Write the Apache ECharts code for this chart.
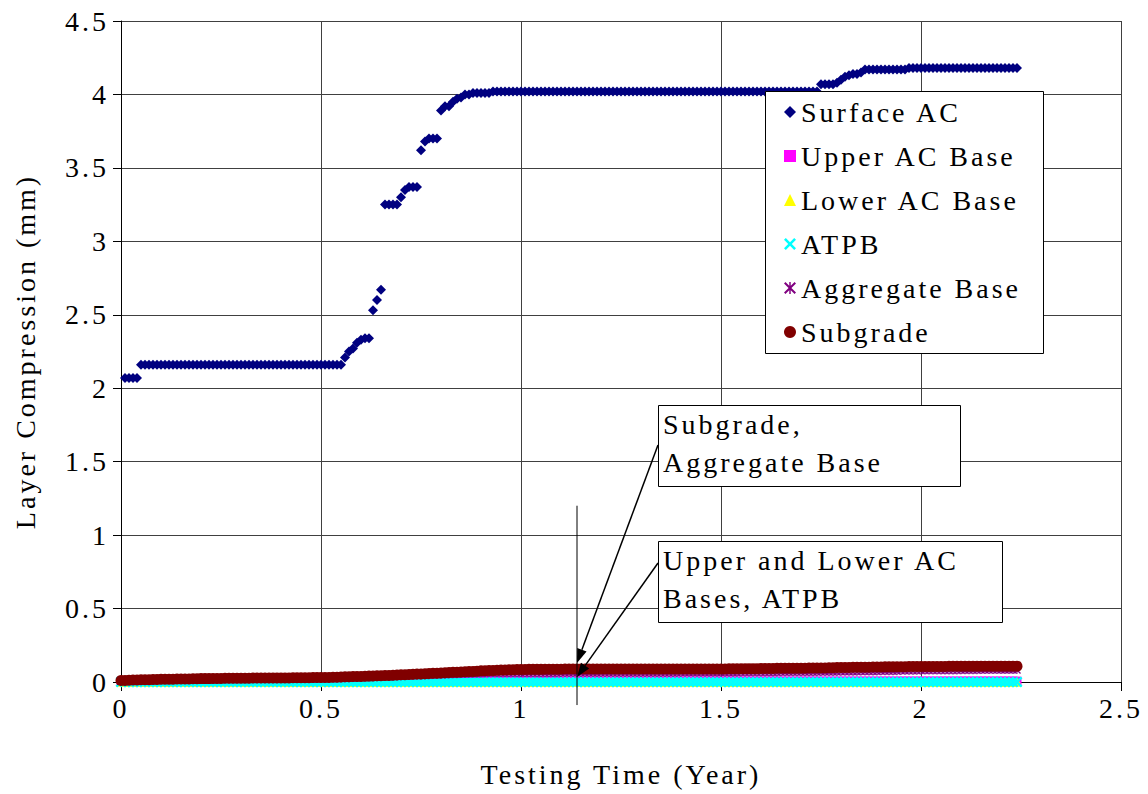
<!DOCTYPE html>
<html><head><meta charset="utf-8">
<script src="https://cdn.jsdelivr.net/npm/echarts@6/dist/echarts.min.js"></script>
<style>
html,body{margin:0;padding:0;background:#fff;}
#chart{width:1148px;height:794px;}
#chart svg text{letter-spacing:3px;}
</style></head><body><div id="chart"></div>
<script>
// Sampling times (years)
const times = [
0,0.01,0.02,0.03,0.04,0.05,0.06,0.07,0.08,0.09,
0.1,0.11,0.12,0.13,0.14,0.15,0.16,0.17,0.18,0.19,
0.2,0.21,0.22,0.23,0.24,0.25,0.26,0.27,0.28,0.29,
0.3,0.31,0.32,0.33,0.34,0.35,0.36,0.37,0.38,0.39,
0.4,0.41,0.42,0.43,0.44,0.45,0.46,0.47,0.48,0.49,
0.5,0.51,0.52,0.53,0.54,0.55,0.56,0.57,0.58,0.59,
0.6,0.61,0.62,0.63,0.64,0.65,0.66,0.67,0.68,0.69,
0.7,0.71,0.72,0.73,0.74,0.75,0.76,0.77,0.78,0.79,
0.8,0.81,0.82,0.83,0.84,0.85,0.86,0.87,0.88,0.89,
0.9,0.91,0.92,0.93,0.94,0.95,0.96,0.97,0.98,0.99,
1,1.01,1.02,1.03,1.04,1.05,1.06,1.07,1.08,1.09,
1.1,1.11,1.12,1.13,1.14,1.15,1.16,1.17,1.18,1.19,
1.2,1.21,1.22,1.23,1.24,1.25,1.26,1.27,1.28,1.29,
1.3,1.31,1.32,1.33,1.34,1.35,1.36,1.37,1.38,1.39,
1.4,1.41,1.42,1.43,1.44,1.45,1.46,1.47,1.48,1.49,
1.5,1.51,1.52,1.53,1.54,1.55,1.56,1.57,1.58,1.59,
1.6,1.61,1.62,1.63,1.64,1.65,1.66,1.67,1.68,1.69,
1.7,1.71,1.72,1.73,1.74,1.75,1.76,1.77,1.78,1.79,
1.8,1.81,1.82,1.83,1.84,1.85,1.86,1.87,1.88,1.89,
1.9,1.91,1.92,1.93,1.94,1.95,1.96,1.97,1.98,1.99,
2,2.01,2.02,2.03,2.04,2.05,2.06,2.07,2.08,2.09,
2.1,2.11,2.12,2.13,2.14,2.15,2.16,2.17,2.18,2.19,
2.2,2.21,2.22,2.23,2.24
];

const surfaceAC = [
null,2.07,2.07,2.07,2.07,2.16,2.16,2.16,2.16,2.16,
2.16,2.16,2.16,2.16,2.16,2.16,2.16,2.16,2.16,2.16,
2.16,2.16,2.16,2.16,2.16,2.16,2.16,2.16,2.16,2.16,
2.16,2.16,2.16,2.16,2.16,2.16,2.16,2.16,2.16,2.16,
2.16,2.16,2.16,2.16,2.16,2.16,2.16,2.16,2.16,2.16,
2.16,2.16,2.16,2.16,2.16,2.16,2.21,2.25,2.27,2.31,
2.33,2.34,2.34,2.53,2.60,2.67,3.25,3.25,3.25,3.25,
3.30,3.35,3.37,3.37,3.37,3.62,3.68,3.70,3.70,3.70,
3.89,3.92,3.92,3.95,3.97,3.98,4.00,4.00,4.01,4.01,
4.01,4.01,4.01,4.02,4.02,4.02,4.02,4.02,4.02,4.02,
4.02,4.02,4.02,4.02,4.02,4.02,4.02,4.02,4.02,4.02,
4.02,4.02,4.02,4.02,4.02,4.02,4.02,4.02,4.02,4.02,
4.02,4.02,4.02,4.02,4.02,4.02,4.02,4.02,4.02,4.02,
4.02,4.02,4.02,4.02,4.02,4.02,4.02,4.02,4.02,4.02,
4.02,4.02,4.02,4.02,4.02,4.02,4.02,4.02,4.02,4.02,
4.02,4.02,4.02,4.02,4.02,4.02,4.02,4.02,4.02,4.02,
4.02,4.02,4.02,4.02,4.02,4.02,4.02,4.02,4.02,4.02,
4.02,4.02,4.02,4.02,4.02,4.07,4.07,4.07,4.07,4.08,
4.10,4.12,4.13,4.14,4.14,4.15,4.17,4.17,4.17,4.17,
4.17,4.17,4.17,4.17,4.17,4.17,4.17,4.18,4.18,4.18,
4.18,4.18,4.18,4.18,4.18,4.18,4.18,4.18,4.18,4.18,
4.18,4.18,4.18,4.18,4.18,4.18,4.18,4.18,4.18,4.18,
4.18,4.18,4.18,4.18,4.18
];

const upperACBase = [
0.003,0.003,0.003,0.003,0.003,0.003,0.003,0.003,0.003,0.003,0.003,0.003,0.003,0.003,0.003,0.003,0.003,0.003,0.003,0.003,0.003,0.003,0.003,0.003,0.003,
0.003,0.003,0.003,0.003,0.003,0.003,0.003,0.003,0.003,0.003,0.003,0.003,0.003,0.003,0.003,0.003,0.003,0.003,0.003,0.003,0.003,0.003,0.003,0.003,0.003,
0.003,0.003,0.003,0.003,0.003,0.003,0.003,0.003,0.003,0.003,0.006,0.006,0.006,0.006,0.006,0.006,0.006,0.006,0.006,0.006,0.006,0.006,0.006,0.006,0.006,
0.006,0.006,0.006,0.006,0.006,0.006,0.006,0.006,0.006,0.006,0.006,0.006,0.006,0.006,0.006,0.006,0.006,0.006,0.006,0.006,0.006,0.006,0.006,0.006,0.006,
0.006,0.006,0.006,0.006,0.006,0.006,0.006,0.006,0.006,0.006,0.006,0.006,0.006,0.006,0.006,0.006,0.006,0.006,0.006,0.006,0.006,0.006,0.006,0.006,0.006,
0.006,0.006,0.006,0.006,0.006,0.006,0.006,0.006,0.006,0.006,0.006,0.006,0.006,0.006,0.006,0.006,0.006,0.006,0.006,0.006,0.006,0.006,0.006,0.006,0.006,
0.006,0.006,0.006,0.006,0.006,0.006,0.006,0.006,0.006,0.006,0.006,0.006,0.006,0.006,0.006,0.006,0.006,0.006,0.006,0.006,0.006,0.006,0.006,0.006,0.006,
0.006,0.006,0.006,0.006,0.006,0.006,0.006,0.006,0.006,0.006,0.006,0.006,0.006,0.006,0.006,0.006,0.006,0.006,0.006,0.006,0.006,0.006,0.006,0.006,0.006,
0.006,0.006,0.006,0.006,0.006,0.006,0.006,0.006,0.006,0.006,0.006,0.006,0.006,0.006,0.006,0.006,0.006,0.006,0.006,0.006,0.006,0.006,0.006,0.006,0.006
];

const lowerACBase = [
0.002,0.002,0.002,0.002,0.002,0.002,0.002,0.002,0.002,0.002,0.002,0.002,0.002,0.002,0.002,0.002,0.002,0.002,0.002,0.002,0.002,0.002,0.002,0.002,0.002,
0.002,0.002,0.002,0.002,0.002,0.002,0.002,0.002,0.002,0.002,0.002,0.002,0.002,0.002,0.002,0.002,0.002,0.002,0.002,0.002,0.002,0.002,0.002,0.002,0.002,
0.002,0.002,0.002,0.002,0.002,0.002,0.002,0.002,0.002,0.002,0.002,0.002,0.002,0.002,0.002,0.002,0.002,0.002,0.002,0.002,0.002,0.002,0.002,0.002,0.002,
0.002,0.002,0.002,0.002,0.002,0.002,0.002,0.002,0.002,0.002,0.002,0.002,0.002,0.002,0.002,0.002,0.002,0.002,0.002,0.002,0.002,0.002,0.002,0.002,0.002,
0.002,0.002,0.002,0.002,0.002,0.002,0.002,0.002,0.002,0.002,0.002,0.002,0.002,0.002,0.002,0.002,0.002,0.002,0.002,0.002,0.002,0.002,0.002,0.002,0.002,
0.002,0.002,0.002,0.002,0.002,0.002,0.002,0.002,0.002,0.002,0.002,0.002,0.002,0.002,0.002,0.002,0.002,0.002,0.002,0.002,0.002,0.002,0.002,0.002,0.002,
0.002,0.002,0.002,0.002,0.002,0.002,0.002,0.002,0.002,0.002,0.002,0.002,0.002,0.002,0.002,0.002,0.002,0.002,0.002,0.002,0.002,0.002,0.002,0.002,0.002,
0.002,0.002,0.002,0.002,0.002,0.002,0.002,0.002,0.002,0.002,0.002,0.002,0.002,0.002,0.002,0.002,0.002,0.002,0.002,0.002,0.002,0.002,0.002,0.002,0.002,
0.002,0.002,0.002,0.002,0.002,0.002,0.002,0.002,0.002,0.002,0.002,0.002,0.002,0.002,0.002,0.002,0.002,0.002,0.002,0.002,0.002,0.002,0.002,0.002,0.002
];

const atpb = [
0,0,0,0,0,0,0,0,0,0,0,0,0,0,0,0,0,0,0,0,0,0,0,0,0,
0,0,0,0,0,0,0,0,0,0,0,0,0,0,0,0,0,0,0,0,0,0,0,0,0,
0,0,0,0,0,0,0,0,0,0,0,0,0,0,0,0,0,0,0,0,0,0,0,0,0,
0,0,0,0,0,0,0,0,0,0,0,0,0,0,0,0,0,0,0,0,0,0,0,0,0,
0,0,0,0,0,0,0,0,0,0,0,0,0,0,0,0,0,0,0,0,0,0,0,0,0,
0,0,0,0,0,0,0,0,0,0,0,0,0,0,0,0,0,0,0,0,0,0,0,0,0,
0,0,0,0,0,0,0,0,0,0,0,0,0,0,0,0,0,0,0,0,0,0,0,0,0,
0,0,0,0,0,0,0,0,0,0,0,0,0,0,0,0,0,0,0,0,0,0,0,0,0,
0,0,0,0,0,0,0,0,0,0,0,0,0,0,0,0,0,0,0,0,0,0,0,0,0
];

const aggregateBase = [
0.005,0.006,0.007,0.008,0.009,0.010,0.010,0.011,0.011,0.012,
0.012,0.013,0.013,0.013,0.014,0.014,0.014,0.015,0.015,0.015,
0.016,0.016,0.016,0.016,0.016,0.017,0.017,0.017,0.017,0.017,
0.018,0.018,0.018,0.018,0.018,0.019,0.019,0.019,0.019,0.019,
0.020,0.020,0.020,0.020,0.020,0.021,0.021,0.021,0.021,0.021,
0.022,0.022,0.023,0.023,0.024,0.024,0.025,0.026,0.027,0.028,
0.029,0.030,0.031,0.032,0.033,0.034,0.035,0.036,0.037,0.038,
0.039,0.040,0.041,0.042,0.043,0.044,0.045,0.046,0.047,0.048,
0.049,0.050,0.051,0.052,0.053,0.054,0.055,0.055,0.056,0.057,
0.058,0.058,0.059,0.059,0.059,0.060,0.060,0.060,0.060,0.060,
0.060,0.060,0.060,0.060,0.060,0.060,0.060,0.060,0.060,0.060,
0.061,0.061,0.061,0.061,0.061,0.061,0.061,0.061,0.061,0.061,
0.062,0.062,0.062,0.062,0.062,0.062,0.062,0.062,0.062,0.062,
0.062,0.062,0.062,0.062,0.062,0.062,0.062,0.062,0.062,0.062,
0.063,0.063,0.063,0.063,0.063,0.063,0.063,0.063,0.063,0.063,
0.063,0.063,0.063,0.063,0.063,0.064,0.064,0.064,0.064,0.064,
0.065,0.065,0.065,0.065,0.065,0.066,0.066,0.066,0.066,0.066,
0.067,0.067,0.067,0.067,0.067,0.068,0.068,0.068,0.068,0.068,
0.070,0.070,0.070,0.070,0.070,0.072,0.072,0.072,0.072,0.072,
0.074,0.074,0.074,0.074,0.074,0.076,0.076,0.076,0.076,0.076,
0.078,0.078,0.078,0.078,0.078,0.079,0.079,0.079,0.079,0.079,
0.080,0.080,0.080,0.080,0.080,0.081,0.081,0.081,0.081,0.081,
0.082,0.082,0.082,0.082,0.082
];

const subgrade = [
0.010,0.011,0.012,0.013,0.014,0.015,0.015,0.016,0.017,0.017,
0.018,0.018,0.019,0.019,0.020,0.020,0.021,0.021,0.022,0.022,
0.023,0.023,0.023,0.024,0.024,0.024,0.025,0.025,0.025,0.026,
0.026,0.026,0.026,0.027,0.027,0.027,0.027,0.027,0.028,0.028,
0.028,0.028,0.028,0.029,0.029,0.029,0.029,0.029,0.030,0.030,
0.030,0.031,0.031,0.032,0.033,0.034,0.035,0.036,0.037,0.038,
0.038,0.039,0.040,0.041,0.042,0.043,0.044,0.045,0.046,0.048,
0.049,0.050,0.051,0.053,0.054,0.055,0.056,0.058,0.059,0.060,
0.062,0.063,0.064,0.066,0.067,0.068,0.070,0.071,0.072,0.074,
0.076,0.077,0.078,0.079,0.080,0.081,0.082,0.083,0.084,0.085,
0.085,0.085,0.086,0.086,0.086,0.086,0.087,0.087,0.087,0.087,
0.087,0.088,0.088,0.088,0.088,0.088,0.088,0.088,0.088,0.088,
0.088,0.088,0.088,0.088,0.088,0.088,0.088,0.088,0.088,0.088,
0.088,0.088,0.088,0.088,0.088,0.088,0.088,0.088,0.088,0.088,
0.088,0.088,0.088,0.088,0.088,0.089,0.089,0.089,0.089,0.089,
0.089,0.089,0.090,0.090,0.090,0.090,0.091,0.091,0.091,0.091,
0.092,0.092,0.092,0.092,0.093,0.093,0.093,0.093,0.094,0.094,
0.094,0.094,0.095,0.095,0.095,0.096,0.096,0.097,0.097,0.098,
0.098,0.099,0.099,0.100,0.100,0.100,0.101,0.101,0.102,0.102,
0.102,0.103,0.103,0.103,0.104,0.104,0.104,0.105,0.105,0.105,
0.105,0.105,0.106,0.106,0.106,0.106,0.106,0.107,0.107,0.107,
0.107,0.107,0.107,0.107,0.108,0.108,0.108,0.108,0.108,0.108,
0.108,0.108,0.108,0.108,0.108
];

const seriesNames = ['Surface AC','Upper AC Base','Lower AC Base','ATPB','Aggregate Base','Subgrade'];
const xTickLabels = ['0','0.5','1','1.5','2','2.5'];
const yTickLabels = ['0','0.5','1','1.5','2','2.5','3','3.5','4','4.5'];
const annotation1 = 'Subgrade,\nAggregate Base';
const annotation2 = 'Upper and Lower AC\nBases, ATPB';

const FONT = '"Liberation Serif", "DejaVu Serif", serif';
const crossPath = 'path://M0,1.5L1.5,0L5,3.5L8.5,0L10,1.5L6.5,5L10,8.5L8.5,10L5,6.5L1.5,10L0,8.5L3.5,5Z';
const starPath = 'path://M0,1.2L1.2,0L5,3.8L8.8,0L10,1.2L6.2,5L10,8.8L8.8,10L5,6.2L1.2,10L0,8.8L3.8,5Z M4.4,0L5.6,0L5.6,10L4.4,10Z';

function toPoints(values) {
  const out = [];
  values.forEach((v, i) => { if (v !== null) out.push([times[i], v]); });
  return out;
}

const chart = echarts.init(document.getElementById('chart'), null, {renderer: 'svg'});

function mkSeries(name, values, symbol, size, color) {
  return {
    type: 'scatter', name: name, data: toPoints(values),
    symbol: symbol, symbolSize: size,
    itemStyle: {color: color, opacity: 1},
    silent: true, animation: false
  };
}

chart.setOption({
  animation: false,
  backgroundColor: '#fff',
  grid: {left: 121, right: 27, top: 21, bottom: 112, containLabel: false},
  xAxis: {
    type: 'value', min: 0, max: 2.5, interval: 0.5,
    axisLine: {show: true, onZero: false, lineStyle: {color: '#000', width: 1}},
    axisTick: {show: true, length: 9, lineStyle: {color: '#000'}},
    axisLabel: {fontFamily: FONT, fontSize: 28, color: '#000', margin: 12,
      formatter: v => xTickLabels[Math.round(v / 0.5)]},
    splitLine: {show: true, lineStyle: {color: '#404040', width: 1}},
    name: 'Testing Time (Year)', nameLocation: 'middle', nameGap: 78,
    nameTextStyle: {fontFamily: FONT, fontSize: 28, color: '#000'}
  },
  yAxis: {
    type: 'value', min: 0, max: 4.5, interval: 0.5,
    axisLine: {show: true, onZero: false, lineStyle: {color: '#000', width: 1}},
    axisTick: {show: true, length: 8, lineStyle: {color: '#000'}},
    axisLabel: {fontFamily: FONT, fontSize: 28, color: '#000', margin: 12,
      formatter: v => yTickLabels[Math.round(v / 0.5)]},
    splitLine: {show: true, lineStyle: {color: '#404040', width: 1}},
    name: 'Layer Compression (mm)', nameLocation: 'middle', nameGap: 82, nameRotate: 90,
    nameTextStyle: {fontFamily: FONT, fontSize: 28, color: '#000'}
  },
  legend: {
    orient: 'vertical', left: 779, top: 92, z: 20,
    itemWidth: 12, itemHeight: 12, itemGap: 14, itemTextGap: 12,
    textStyle: {fontFamily: FONT, fontSize: 28, color: '#000', lineHeight: 30},
    data: seriesNames, selectedMode: false
  },
  series: [
    mkSeries(seriesNames[0], surfaceAC, 'diamond', 10, '#000080'),
    mkSeries(seriesNames[1], upperACBase, 'rect', 9, '#FF00FF'),
    mkSeries(seriesNames[2], lowerACBase, 'triangle', 10, '#FFFF00'),
    mkSeries(seriesNames[3], atpb, crossPath, 11, '#00FFFF'),
    mkSeries(seriesNames[4], aggregateBase, starPath, 8, '#800080'),
    mkSeries(seriesNames[5], subgrade, 'circle', 11, '#800000')
  ]
});

// annotations
function px(x, y) { return chart.convertToPixel({gridIndex: 0}, [x, y]); }
function arrow(x1, y1, x2, y2) {
  const dx = x2 - x1, dy = y2 - y1, len = Math.sqrt(dx * dx + dy * dy);
  const ux = dx / len, uy = dy / len, hl = 14, hw = 5;
  const bx = x2 - ux * hl, by = y2 - uy * hl;
  return [
    {type: 'line', shape: {x1: x1, y1: y1, x2: bx, y2: by}, style: {stroke: '#000', lineWidth: 1.5}, z: 30},
    {type: 'polygon', shape: {points: [[x2, y2], [bx - uy * hw, by + ux * hw], [bx + uy * hw, by - ux * hw]]}, style: {fill: '#000'}, z: 30}
  ];
}
const vTop = px(1.14, 1.2), vBot = px(1.14, -0.157);
const tip1 = px(1.14, 0.13), tip2 = px(1.14, 0.034);
const graphics = [
  {type: 'rect', shape: {x: 765.5, y: 91.5, width: 278, height: 262}, style: {fill: '#fff', stroke: '#000', lineWidth: 1}, z: 10},
  {type: 'line', shape: {x1: vTop[0], y1: vTop[1], x2: vBot[0], y2: vBot[1]}, style: {stroke: '#000', lineWidth: 1}, z: 30},
  {type: 'rect', shape: {x: 658.5, y: 405.5, width: 302, height: 81}, style: {fill: '#fff', stroke: '#000', lineWidth: 1}, z: 25},
  {type: 'text', x: 663, y: 405, style: {text: annotation1, font: '28px ' + FONT, fill: '#000', lineHeight: 38}, z: 26},
  {type: 'rect', shape: {x: 658.5, y: 541.5, width: 344, height: 81}, style: {fill: '#fff', stroke: '#000', lineWidth: 1}, z: 25},
  {type: 'text', x: 663, y: 541, style: {text: annotation2, font: '28px ' + FONT, fill: '#000', lineHeight: 38}, z: 26}
].concat(arrow(658, 445, tip1[0], tip1[1])).concat(arrow(658, 563, tip2[0], tip2[1]));
chart.setOption({graphic: graphics});
</script></body></html>
